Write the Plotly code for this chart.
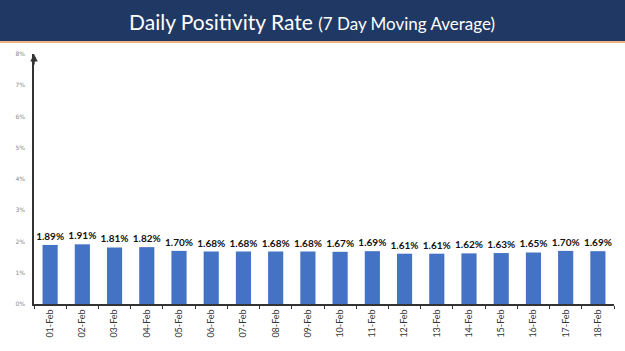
import plotly.graph_objects as go

dates = ["01-Feb", "02-Feb", "03-Feb", "04-Feb", "05-Feb", "06-Feb", "07-Feb", "08-Feb", "09-Feb",
         "10-Feb", "11-Feb", "12-Feb", "13-Feb", "14-Feb", "15-Feb", "16-Feb", "17-Feb", "18-Feb"]
rates = [1.89, 1.91, 1.81, 1.82, 1.70, 1.68, 1.68, 1.68, 1.68,
         1.67, 1.69, 1.61, 1.61, 1.62, 1.63, 1.65, 1.70, 1.69]
ytick_vals = [0, 1, 2, 3, 4, 5, 6, 7, 8]
ytick_text = [f"{v}%" for v in ytick_vals]

W, H = 625, 351
L, R, T, B = 34, 11, 54, 47
ph = H - T - B

def py(pix):
    return (H - B - pix) / ph

fig = go.Figure()
fig.add_trace(go.Bar(
    x=dates, y=rates,
    marker=dict(color="#4472C4", line=dict(width=0)),
    text=[f"{v:.2f}%" for v in rates],
    textposition="outside",
    constraintext="none",
    textfont=dict(family="Lato", size=10, color="#111111", weight="bold"),
    cliponaxis=False,
    width=0.47,
    hoverinfo="skip",
))

fig.update_layout(
    width=W, height=H,
    margin=dict(l=L, r=R, t=T, b=B, pad=0),
    paper_bgcolor="white", plot_bgcolor="white",
    showlegend=False,
    xaxis=dict(
        type="category", tickangle=-90,
        tickfont=dict(family="Lato", size=9, color="#333333"),
        showline=True, linecolor="#333333", linewidth=1.5,
        ticks="outside", ticklen=3, tickcolor="#333333",
        tickson="boundaries", showgrid=False,
        range=[-0.5, len(dates) - 0.5],
    ),
    yaxis=dict(
        range=[0, 8], tickvals=ytick_vals, ticktext=ytick_text,
        tickfont=dict(family="DejaVu Sans", size=6, color="#888888"),
        showline=True, linecolor="#333333", linewidth=1.5,
        showgrid=False, zeroline=False, ticks="", ticklabelstandoff=6,
    ),
    shapes=[
        dict(type="rect", xref="paper", yref="paper",
             x0=-L / (W - L - R), x1=(W - L) / (W - L - R),
             y0=py(41), y1=py(0), fillcolor="#1F3864", line=dict(width=0), layer="above"),
        dict(type="rect", xref="paper", yref="paper",
             x0=-L / (W - L - R), x1=(W - L) / (W - L - R),
             y0=py(43), y1=py(41), fillcolor="#F4B183", line=dict(width=0), layer="above"),
    ],
    annotations=[
        dict(xref="paper", yref="paper", x=(312 - L) / (W - L - R), y=py(21),
             xanchor="center", yanchor="middle", showarrow=False,
             text="Daily Positivity Rate <span style='font-size:17px'>(7 Day Moving Average)</span>",
             font=dict(family="Lato", size=21, color="white")),
        dict(xref="paper", yref="paper", x=0, y=1.0, ax=0, ay=12,
             showarrow=True, arrowhead=2, arrowsize=1, arrowwidth=1.5, arrowcolor="#333333", text=""),
    ],
)

fig.write_html("out.html")
